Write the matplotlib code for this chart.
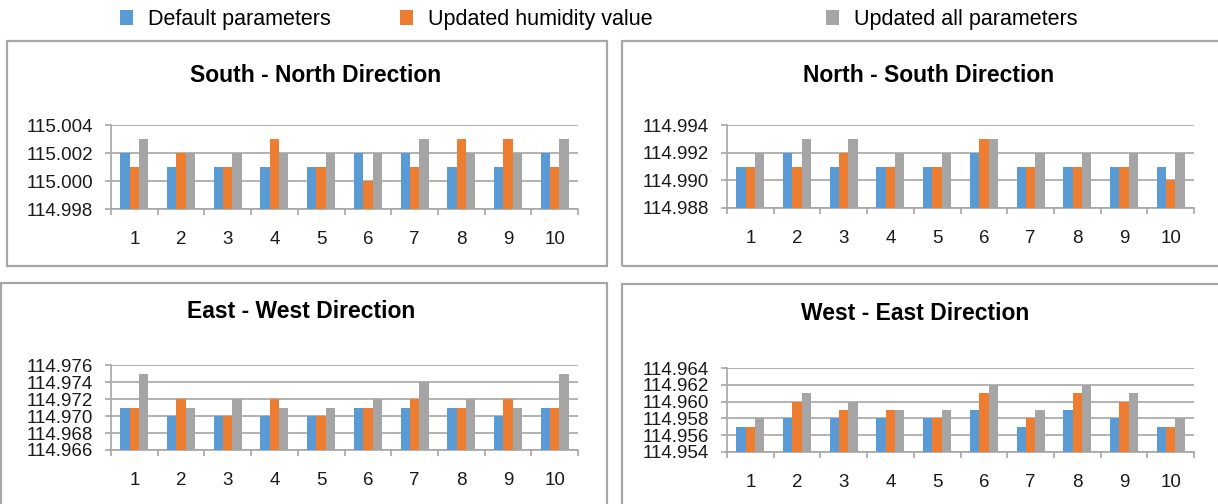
import numpy as np
import matplotlib
matplotlib.use("Agg")
import matplotlib.pyplot as plt
from matplotlib.patches import Patch, Rectangle
from matplotlib.ticker import FormatStrFormatter, FixedLocator

plt.rcParams['font.family'] = ['Liberation Sans', 'DejaVu Sans']

W, H = 1218, 504

cases = [1, 2, 3, 4, 5, 6, 7, 8, 9, 10]
series_names = ["Default parameters", "Updated humidity value", "Updated all parameters"]
colors = ["#5B9BD5", "#ED7D31", "#A5A5A5"]

# South - North
sn_default = [115.002, 115.001, 115.001, 115.001, 115.001, 115.002, 115.002, 115.001, 115.001, 115.002]
sn_humidity = [115.001, 115.002, 115.001, 115.003, 115.001, 115.000, 115.001, 115.003, 115.003, 115.001]
sn_all = [115.003, 115.002, 115.002, 115.002, 115.002, 115.002, 115.003, 115.002, 115.002, 115.003]

# North - South
ns_default = [114.991, 114.992, 114.991, 114.991, 114.991, 114.992, 114.991, 114.991, 114.991, 114.991]
ns_humidity = [114.991, 114.991, 114.992, 114.991, 114.991, 114.993, 114.991, 114.991, 114.991, 114.990]
ns_all = [114.992, 114.993, 114.993, 114.992, 114.992, 114.993, 114.992, 114.992, 114.992, 114.992]

# East - West
ew_default = [114.971, 114.970, 114.970, 114.970, 114.970, 114.971, 114.971, 114.971, 114.970, 114.971]
ew_humidity = [114.971, 114.972, 114.970, 114.972, 114.970, 114.971, 114.972, 114.971, 114.972, 114.971]
ew_all = [114.975, 114.971, 114.972, 114.971, 114.971, 114.972, 114.974, 114.972, 114.971, 114.975]

# West - East
we_default = [114.957, 114.958, 114.958, 114.958, 114.958, 114.959, 114.957, 114.959, 114.958, 114.957]
we_humidity = [114.957, 114.960, 114.959, 114.959, 114.958, 114.961, 114.958, 114.961, 114.960, 114.957]
we_all = [114.958, 114.961, 114.960, 114.959, 114.959, 114.962, 114.959, 114.962, 114.961, 114.958]

panels = [
    ("South - North Direction", (sn_default, sn_humidity, sn_all), (114.998, 115.004),
     (111, 578, 125, 209), (316, 75)),
    ("North - South Direction", (ns_default, ns_humidity, ns_all), (114.988, 114.994),
     (727, 1194, 125, 208), (929, 75)),
    ("East - West Direction", (ew_default, ew_humidity, ew_all), (114.966, 114.976),
     (111, 578, 365, 450), (301, 312)),
    ("West - East Direction", (we_default, we_humidity, we_all), (114.954, 114.964),
     (727, 1194, 368, 452), (915, 313)),
]

fig = plt.figure(figsize=(W / 100, H / 100), dpi=100)

# chart frames
frame_color = "#A6A6A6"
for x0, y0, x1, y1 in [(6.5, 41.5, 607, 266), (622, 41.5, 1225, 266),
                       (1, 283, 607, 512), (622, 284, 1225, 512)]:
    fig.patches.append(Rectangle((x0 / W, 1 - y1 / H), (x1 - x0) / W, (y1 - y0) / H,
                                 transform=fig.transFigure, fill=False,
                                 edgecolor=frame_color, linewidth=1.6))

grid_color = "#A6A6A6"
text_color = "#1a1a1a"
x = np.arange(len(cases))
offsets = [-0.2, 0.0, 0.2]

for title, series, (ymin, ymax), (l, r, t, b), (tx, ty) in panels:
    ax = fig.add_axes([l / W, 1 - b / H, (r - l) / W, (b - t) / H])
    for vals, off, c in zip(series, offsets, colors):
        ax.bar(x + off, vals, width=0.2, color=c, zorder=3)
    ax.set_ylim(ymin, ymax)
    ax.set_xlim(-0.5, len(cases) - 0.5)
    ax.set_yticks(np.arange(ymin, ymax + 1e-9, 0.002))
    ax.yaxis.set_major_formatter(FormatStrFormatter('%.3f'))
    ax.yaxis.grid(True, color=grid_color, linewidth=1.2, zorder=0)
    ax.set_axisbelow(True)
    ax.set_xticks(x)
    ax.set_xticklabels([str(c) for c in cases])
    ax.xaxis.set_minor_locator(FixedLocator(np.arange(-0.5, len(cases), 1.0)))
    ax.tick_params(axis='x', which='major', length=0, pad=16, labelsize=13.5, labelcolor=text_color)
    ax.tick_params(axis='x', which='minor', length=4, width=1.2, color=grid_color, direction='out')
    ax.tick_params(axis='y', length=4, width=1.2, color=grid_color, pad=9,
                   labelsize=13.5, labelcolor=text_color)
    for side in ['top', 'right']:
        ax.spines[side].set_visible(False)
    for side in ['left', 'bottom']:
        ax.spines[side].set_color(grid_color)
        ax.spines[side].set_linewidth(1.2)
    fig.text(tx / W, 1 - ty / H, title, ha='center', va='center',
             fontsize=16.5, fontweight='bold', color='black')

# legend entries
for name, c, xpos in zip(series_names, colors, [120, 400, 826]):
    fig.legend(handles=[Patch(facecolor=c, edgecolor='none')], labels=[name],
               loc='center left', bbox_to_anchor=(xpos / W, 1 - 19.5 / H),
               frameon=False, fontsize=15.5, handlelength=0.6, handleheight=0.7,
               handletextpad=0.7, borderpad=0, borderaxespad=0)

fig.savefig("out.png", dpi=100)
